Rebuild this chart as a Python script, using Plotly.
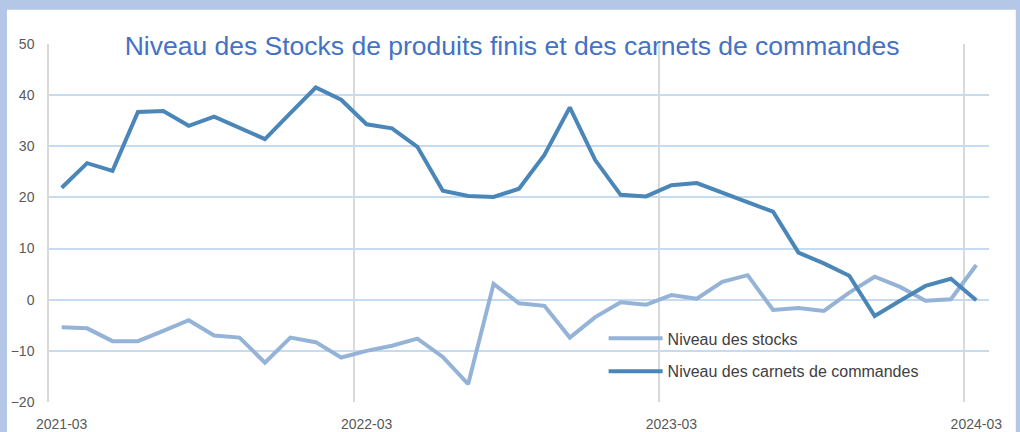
import plotly.graph_objects as go

# monthly survey balances, 2021-03 .. 2024-03
months = [f"{2021 + (2 + i) // 12}-{(2 + i) % 12 + 1:02d}" for i in range(37)]

stocks = [-5.4, -5.6, -8.1, -8.1, -6.1, -4.0, -7.0, -7.4, -12.3, -7.4,
          -8.3, -11.3, -10.0, -9.0, -7.6, -11.2, -16.5, 3.1, -0.7, -1.2,
          -7.4, -3.4, -0.5, -1.0, 0.9, 0.2, 3.5, 4.8, -2.0, -1.6,
          -2.2, 1.4, 4.5, 2.5, -0.2, 0.1, 6.8]

carnets = [21.9, 26.7, 25.2, 36.7, 36.9, 34.0, 35.8, 33.5, 31.4, 36.5,
           41.5, 39.1, 34.3, 33.5, 29.9, 21.3, 20.3, 20.1, 21.7, 28.3,
           37.6, 27.3, 20.5, 20.2, 22.4, 22.8, 20.9, 19.1, 17.2, 9.2,
           7.1, 4.7, -3.2, -0.2, 2.7, 4.1, -0.1]

tick_months = ["2021-03", "2022-03", "2023-03", "2024-03"]

x = list(range(len(months)))
tick_pos = [months.index(m) for m in tick_months]

fig = go.Figure()
fig.add_trace(go.Scatter(x=x, y=stocks, mode="lines",
                         name="Niveau des stocks", legendgroup="a",
                         line=dict(color="#95b3d7", width=4)))
fig.add_trace(go.Scatter(x=x, y=carnets, mode="lines",
                         name="Niveau des carnets de commandes", legendgroup="b",
                         line=dict(color="#4a86b8", width=4)))

fig.update_layout(
    width=1020, height=432,
    margin=dict(l=49, r=31, t=44, b=30),
    paper_bgcolor="#b4c7e7",
    plot_bgcolor="white",
    font=dict(family="Liberation Sans, Arial", color="#595959", size=14),
    title=dict(text="Niveau des Stocks de produits finis et des carnets de commandes",
               x=0.502, xanchor="center", y=0.895, yanchor="middle",
               yref="container",
               font=dict(size=26.5, color="#4472c4")),
    showlegend=True,
    legend=dict(x=0.59, y=0.225, xanchor="left", yanchor="top",
                bgcolor="rgba(0,0,0,0)", itemwidth=54, tracegroupgap=9,
                font=dict(size=16, color="#404040")),
    shapes=[dict(type="rect", xref="paper", yref="paper",
                 x0=-0.0447, x1=1.0285, y0=-0.2, y1=1.0955,
                 fillcolor="white", line=dict(width=0), layer="below")],
)

fig.update_xaxes(range=[-0.5, 36.5], tickmode="array", tickvals=tick_pos,
                 ticktext=tick_months, showgrid=False, zeroline=False,
                 ticks="", ticklabelstandoff=12, automargin=False,
                 minor=dict(tickmode="array",
                            tickvals=[p - 0.5 for p in tick_pos],
                            showgrid=True, gridcolor="#d9d9d9", gridwidth=1.5))
fig.update_yaxes(range=[-20, 50], dtick=10, showgrid=True,
                 gridcolor="#c6daf0", gridwidth=1.5, zeroline=False,
                 showline=True, linecolor="#d9d9d9", linewidth=1.5,
                 ticks="", ticklabelstandoff=10, automargin=False)

# the page's default body margin would shift the figure by 8px
fig.write_html("out.html", config={"displayModeBar": False},
               post_script="document.body.style.margin = '0';")
